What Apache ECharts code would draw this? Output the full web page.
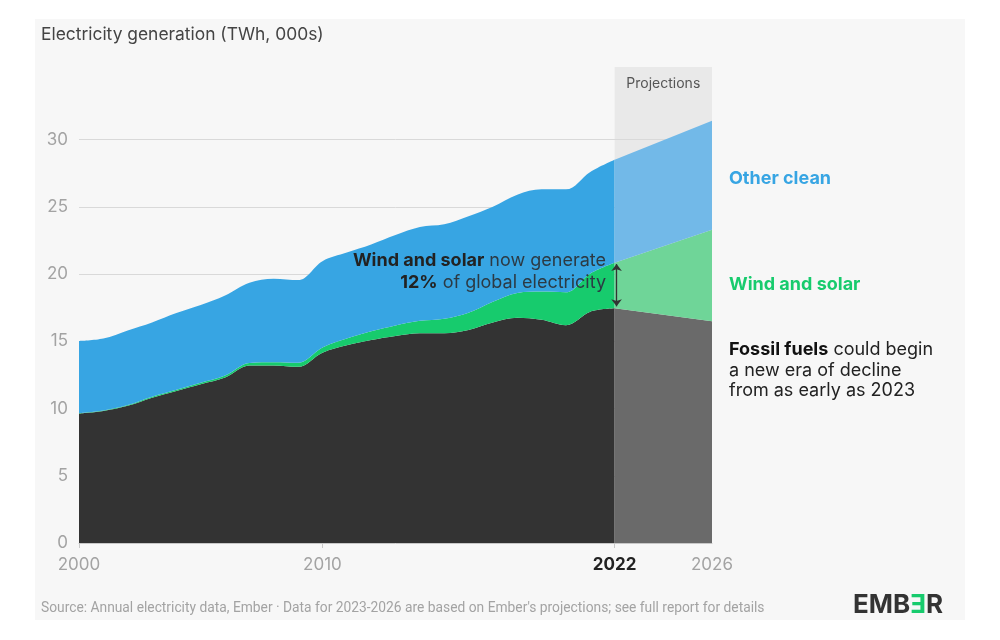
<!DOCTYPE html>
<html><head><meta charset="utf-8">
<script src="https://cdn.jsdelivr.net/npm/echarts@6/dist/echarts.min.js"></script>
<style>html,body{margin:0;padding:0;background:#fff}#c{width:1000px;height:640px}</style>
</head><body><div id="c"></div>
<script>
// ---- Data (TWh, thousands) ----
const years = [2000,2001,2002,2003,2004,2005,2006,2007,2008,2009,2010,2011,2012,2013,2014,2015,2016,2017,2018,2019,2020,2021,2022];
const fossil = [9.63,9.82,10.2,10.8,11.3,11.8,12.3,13.2,13.2,13.1,14.15,14.7,15.1,15.4,15.6,15.6,15.85,16.4,16.75,16.6,16.2,17.2,17.45];
const windSolar = [0.03,0.04,0.06,0.08,0.1,0.12,0.15,0.19,0.24,0.3,0.38,0.5,0.64,0.78,0.92,1.08,1.28,1.55,1.85,2.1,2.45,2.85,3.4];
const otherClean = [5.36,5.34,5.54,5.52,5.7,5.78,5.95,5.96,6.21,6.15,6.43,6.4,6.46,6.72,6.98,7.02,7.17,7.05,7.3,7.6,7.65,7.55,7.65];
const projYears = [2022, 2026];
const projFossil = [17.45, 16.5];
const projWindSolar = [3.4, 6.8];
const projOtherClean = [7.65, 8.1];
const xTickYears = [2000, 2010, 2022, 2026];
const yGridValues = [5, 10, 15, 20, 25, 30];

const FONT = 'Inter, "Noto Sans", sans-serif';
const lastI = years.length - 1;
// value first so that the stack is computed on the value dimension
const pairs = (xs, vs) => xs.map((x, i) => [vs[i], x]);

const chart = echarts.init(document.getElementById('c'), null, {renderer: 'canvas'});
const areaBase = {type: 'line', showSymbol: false, symbol: 'none', lineStyle: {width: 0}, silent: true, emphasis: {disabled: true}, encode: {x: 1, y: 0}};

chart.setOption({
  animation: false,
  backgroundColor: '#ffffff',
  grid: {left: 79, right: 288, top: 67, bottom: 97},
  xAxis: {
    type: 'value', min: 2000, max: 2026,
    splitLine: {show: false},
    axisLine: {show: true, lineStyle: {color: '#c8c8c8'}},
    axisTick: {show: true, customValues: xTickYears.slice(0, 3), length: 5, lineStyle: {color: '#c8c8c8'}},
    axisLabel: {
      customValues: xTickYears, margin: 13, fontSize: 17, fontFamily: FONT, color: '#a3a3a3',
      formatter: v => v === 2022 ? '{b|' + v + '}' : String(v),
      rich: {b: {fontWeight: 'bold', color: '#222', fontSize: 17, fontFamily: FONT}}
    }
  },
  yAxis: {
    type: 'value', min: 0, max: 35.4, interval: 5,
    splitLine: {show: false}, axisLine: {show: false}, axisTick: {show: false},
    axisLabel: {margin: 11, fontSize: 17, fontFamily: FONT, color: '#a3a3a3', formatter: v => v <= 30 ? String(v) : ''}
  },
  series: [
    Object.assign({}, areaBase, {
      name: 'Fossil fuels', stack: 'hist', smooth: 0.35,
      areaStyle: {color: '#333333', opacity: 1},
      data: pairs(years, fossil),
      markArea: {
        silent: true, z: 1,
        itemStyle: {color: '#e9e9e9'},
        label: {show: true, position: 'insideTop', distance: 10, color: '#555', fontSize: 14, fontFamily: FONT},
        data: [[{name: 'Projections', xAxis: projYears[0]}, {xAxis: projYears[1]}]]
      },
      markLine: {
        silent: true, z: 1, symbol: 'none', label: {show: false},
        lineStyle: {color: '#d9d9d9', width: 1, type: 'solid'},
        data: yGridValues.map(v => ({yAxis: v}))
      }
    }),
    Object.assign({}, areaBase, {
      name: 'Wind and solar', stack: 'hist', smooth: 0.35,
      areaStyle: {color: '#17cb6d', opacity: 1},
      data: pairs(years, windSolar)
    }),
    Object.assign({}, areaBase, {
      name: 'Other clean', stack: 'hist', smooth: 0.35,
      areaStyle: {color: '#37a5e3', opacity: 1},
      data: pairs(years, otherClean)
    }),
    Object.assign({}, areaBase, {
      name: 'Fossil fuels (proj)', stack: 'proj',
      areaStyle: {color: '#6a6a6a', opacity: 1},
      data: pairs(projYears, projFossil),
      markLine: {
        silent: true, z: 10, symbol: ['arrow', 'arrow'], symbolSize: [8, 7], label: {show: false},
        lineStyle: {color: '#333', width: 1.3, type: 'solid'},
        data: [[{coord: [years[lastI] + 0.08, fossil[lastI] + 0.15]}, {coord: [years[lastI] + 0.08, fossil[lastI] + windSolar[lastI] - 0.1]}]]
      }
    }),
    Object.assign({}, areaBase, {
      name: 'Wind and solar (proj)', stack: 'proj',
      areaStyle: {color: '#6fd598', opacity: 1},
      data: pairs(projYears, projWindSolar)
    }),
    Object.assign({}, areaBase, {
      name: 'Other clean (proj)', stack: 'proj',
      areaStyle: {color: '#72b9e8', opacity: 1},
      data: pairs(projYears, projOtherClean)
    })
  ],
  graphic: [
    {type: 'rect', z: -10, silent: true, shape: {x: 35, y: 19, width: 930, height: 601}, style: {fill: '#f7f7f7'}},
    {type: 'text', z: 100, x: 41, y: 35, style: {text: 'Electricity generation (TWh, 000s)', fontSize: 17.4, fontFamily: FONT, fill: '#444', verticalAlign: 'middle'}},
    {type: 'text', z: 100, x: 606, y: 261, style: {text: '{b|Wind and solar} now generate', align: 'right', verticalAlign: 'middle', fontSize: 18, fontFamily: FONT, fill: '#2c3a44', rich: {b: {fontWeight: 'bold', fill: '#222', fontSize: 18, fontFamily: FONT}}}},
    {type: 'text', z: 100, x: 606, y: 283, style: {text: '{b|12%} of global electricity', align: 'right', verticalAlign: 'middle', fontSize: 18, fontFamily: FONT, fill: '#2c3a44', rich: {b: {fontWeight: 'bold', fill: '#222', fontSize: 18, fontFamily: FONT}}}},
    {type: 'text', z: 100, x: 729, y: 179, style: {text: 'Other clean', verticalAlign: 'middle', fontSize: 18, fontWeight: 'bold', fontFamily: FONT, fill: '#37a5e3'}},
    {type: 'text', z: 100, x: 729, y: 285, style: {text: 'Wind and solar', verticalAlign: 'middle', fontSize: 18, fontWeight: 'bold', fontFamily: FONT, fill: '#17cb6d'}},
    {type: 'text', z: 100, x: 729, y: 350, style: {text: '{b|Fossil fuels} could begin', verticalAlign: 'middle', fontSize: 18, fontFamily: FONT, fill: '#222', rich: {b: {fontWeight: 'bold', fill: '#111', fontSize: 18, fontFamily: FONT}}}},
    {type: 'text', z: 100, x: 729, y: 371, style: {text: 'a new era of decline', verticalAlign: 'middle', fontSize: 18, fontFamily: FONT, fill: '#222'}},
    {type: 'text', z: 100, x: 729, y: 391, style: {text: 'from as early as 2023', verticalAlign: 'middle', fontSize: 18, fontFamily: FONT, fill: '#222'}},
    {type: 'text', z: 100, x: 41, y: 609, style: {text: "Source: Annual electricity data, Ember · Data for 2023-2026 are based on Ember's projections; see full report for details", verticalAlign: 'middle', fontSize: 13.8, fontFamily: 'Roboto, sans-serif', fill: '#a3a3a3'}},
    {type: 'text', z: 100, x: 853, y: 605, style: {text: 'EMB{g|Ǝ}R', verticalAlign: 'middle', fontSize: 26, fontWeight: 'bold', fontFamily: FONT, fill: '#333', rich: {g: {fill: '#17cb6d', fontSize: 26, fontWeight: 'bold', fontFamily: FONT}}}}
  ]
});
</script></body></html>
